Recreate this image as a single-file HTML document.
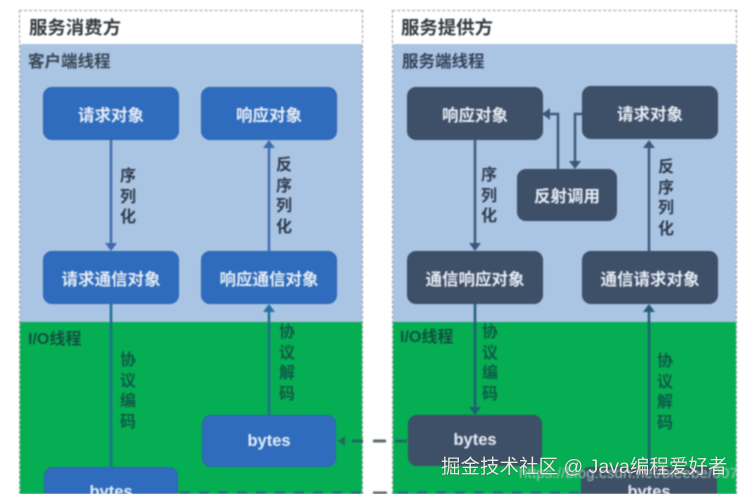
<!DOCTYPE html>
<html><head><meta charset="utf-8">
<style>
html,body{margin:0;padding:0;background:#fff;overflow:hidden;width:746px;height:494px}
#p{position:relative;width:746px;height:494px;overflow:hidden;background:#fff;font-family:"Liberation Sans","Noto Sans CJK SC",sans-serif}
#p div{position:absolute;box-sizing:border-box}
.inner{filter:blur(.8px);position:absolute;left:0;top:0;width:746px;height:494px;overflow:hidden}
.b{border-radius:9px;color:#e8eef6;font-size:16.5px;font-weight:bold;display:flex;align-items:center;justify-content:center;white-space:nowrap}
.c{align-items:flex-start;padding-top:15px;border-radius:9px 9px 0 0;border-bottom:0 !important;overflow:hidden}
.bl{background:#2f6cbd;border:1px solid #2a64b0}
.dk{background:#3e4f68;border:1px solid #3a4b63}
.t{color:#33383f;font-weight:bold;white-space:nowrap}
.v{font-size:16px;font-weight:bold;line-height:20.5px;width:20px;text-align:center;color:#2f3b4c}
.g{color:#0f5a48}
svg{position:absolute;left:0;top:0}
</style></head><body><div id="p"><div class="inner">
<div style="left:19px;top:10px;width:344px;height:484px;border:1px dashed #9a9a9a;border-bottom:0"></div>
<div style="left:392px;top:10px;width:345px;height:484px;border:1px dashed #9a9a9a;border-bottom:0"></div>
<div style="left:20px;top:44px;width:342px;height:278px;background:#aac4e4"></div>
<div style="left:393px;top:44px;width:343px;height:278px;background:#aac4e4"></div>
<div style="left:20px;top:322px;width:342px;height:172px;background:#05ae52"></div>
<div style="left:393px;top:322px;width:343px;height:172px;background:#05ae52"></div>

<div class="t" style="left:29px;top:17px;font-size:18.4px;line-height:22px">服务消费方</div>
<div class="t" style="left:401px;top:17px;font-size:18.4px;line-height:22px">服务提供方</div>
<div class="t" style="left:28px;top:53px;font-size:16.5px;line-height:18px;color:#3a4552">客户端线程</div>
<div class="t" style="left:402px;top:53px;font-size:16.5px;line-height:18px;color:#33425a">服务端线程</div>
<div class="t" style="left:28px;top:331px;font-size:16px;line-height:18px;color:#0f4f40">I/O线程</div>
<div class="t" style="left:400px;top:329px;font-size:16px;line-height:18px;color:#0f4f40">I/O线程</div>

<svg width="746" height="494" viewBox="0 0 746 494" fill="none">
<g stroke="#3f6cae" stroke-width="2.5">
<path d="M111 140V246M269 251V147"/>
</g>
<g fill="#3f6cae">
<path d="M105 243h12l-6 8zM263 148h12l-6-8z"/>
</g>
<g stroke="#1c6f8e" stroke-width="2.5">
<path d="M111 304V467M269 415V311"/>
</g>
<path d="M263 312h12l-6-8z" fill="#2a6ea8"/>
<g stroke="#3c5878" stroke-width="2.5">
<path d="M475 140V246M649 251V147M582 114H575V163M558 169V114H549"/>
</g>
<g fill="#3c5878">
<path d="M469 243h12l-6 8zM643 148h12l-6-8zM569 161h12l-6 8zM550 108v12l-8-6z"/>
</g>
<g stroke="#1f5f76" stroke-width="2.5">
<path d="M475 304V410M649 467V311"/>
</g>
<path d="M469 407h12l-6 8z" fill="#1f5f76"/>
<path d="M643 312h12l-6-8z" fill="#2b5a74"/>
<path d="M345 436v10l-7-5z" fill="#1f6a60"/>
<path d="M352 441h11" stroke="#1f6a60" stroke-width="3"/>
<path d="M373 441h13" stroke="#5d6b68" stroke-width="3"/>
<path d="M395 441h12" stroke="#1f6a60" stroke-width="3"/>
<path d="M180 493H360" stroke="#1f6a8a" stroke-width="3" stroke-dasharray="10 9"/>
<path d="M373 493h14" stroke="#5d6b68" stroke-width="3"/>
<path d="M398 493H580" stroke="#1f6a8a" stroke-width="3" stroke-dasharray="10 9"/>
</svg>

<div class="b bl" style="left:43px;top:87px;width:136px;height:53px">请求对象</div>
<div class="b bl" style="left:201px;top:87px;width:136px;height:53px">响应对象</div>
<div class="b bl" style="left:43px;top:251px;width:136px;height:53px">请求通信对象</div>
<div class="b bl" style="left:201px;top:251px;width:136px;height:53px">响应通信对象</div>
<div class="b bl" style="left:202px;top:415px;width:134px;height:52px">bytes</div>
<div class="b bl c" style="left:44px;top:467px;width:134px;height:27px">bytes</div>

<div class="b dk" style="left:407px;top:87px;width:136px;height:53px">响应对象</div>
<div class="b dk" style="left:582px;top:86px;width:136px;height:53px">请求对象</div>
<div class="b dk" style="left:517px;top:169px;width:100px;height:52px">反射调用</div>
<div class="b dk" style="left:407px;top:251px;width:136px;height:53px">通信响应对象</div>
<div class="b dk" style="left:582px;top:251px;width:136px;height:53px">通信请求对象</div>
<div class="b dk" style="left:408px;top:415px;width:134px;height:51px">bytes</div>
<div class="b dk c" style="left:581px;top:467px;width:136px;height:27px">bytes</div>

<div class="v" style="left:118px;top:167px">序<br>列<br>化</div>
<div class="v" style="left:274px;top:156px">反<br>序<br>列<br>化</div>
<div class="v" style="left:479px;top:166px">序<br>列<br>化</div>
<div class="v" style="left:656px;top:158px">反<br>序<br>列<br>化</div>
<div class="v g" style="left:118px;top:351px">协<br>议<br>编<br>码</div>
<div class="v g" style="left:277px;top:323px">协<br>议<br>解<br>码</div>
<div class="v g" style="left:480px;top:323px">协<br>议<br>编<br>码</div>
<div class="v g" style="left:655px;top:352px">协<br>议<br>解<br>码</div>

<div style="left:519px;top:465px;font-size:15px;line-height:18px;color:#9fc9b4;white-space:nowrap;letter-spacing:.2px;width:227px;overflow:hidden">https://blog.csdn.net/bieebe/007</div>
</div>
<div style="left:441px;top:455px;font-size:19.5px;line-height:24px;color:#e6ebe2;white-space:nowrap;text-shadow:0 0 1px #333;filter:blur(.3px)">掘金技术社区 @ Java编程爱好者</div>
</div></body></html>
